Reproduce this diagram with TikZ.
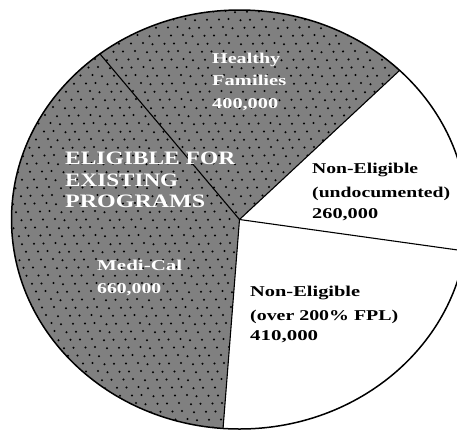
\documentclass[tikz,border=0pt]{standalone}
\usepackage{fontspec}
\setmainfont{Liberation Serif}
\usepackage{graphicx}
\usetikzlibrary{calc}
\newcommand{\stretchlab}[2]{\resizebox{#1pt}{\height}{#2}}
\begin{document}
\begin{tikzpicture}[x=1pt,y=-1pt,
  lblw/.style={anchor=base west, inner sep=0pt, text=white, font=\bfseries\fontsize{15}{15}\selectfont},
  lblb/.style={anchor=base west, inner sep=0pt, text=black, font=\bfseries\fontsize{15}{15}\selectfont},
  lblbig/.style={anchor=base west, inner sep=0pt, text=white, font=\bfseries\fontsize{19}{19}\selectfont},
  divider/.style={draw=black, line width=1.1pt},
  rim/.style={draw=black, line width=1.5pt},
  dotc/.style={fill=black}]
\useasboundingbox (0,0) rectangle (457,432);
\fill[white] (0,0) rectangle (457,432);
\clip (0,0) rectangle (457,432);
\coordinate (C) at (239.5,219.5);
\coordinate (UL) at (100,54);
\coordinate (UR) at (399.5,70.5);
\coordinate (R) at (465,251);
\coordinate (B) at (223,429);
% shaded sector (eligible)
\begin{scope}
  \clip (C) ellipse [x radius=228pt, y radius=209.5pt];
  \clip (C) -- ($(C)!3!(B)$) -- (-400,900) -- (-400,-400) -- (760,-400) -- ($(C)!3!(UR)$) -- cycle;
  \fill[gray] (-10,-10) rectangle (470,440);
  \foreach \r in {0,...,55} {
    \foreach \c in {0,...,41} {
      \fill[dotc] ({\c*11 + mod(\r*4,11) + mod(\c*7+\r*3,5)*0.5}, {\r*8 + 3 + mod(\c*3,4)*0.4}) circle[radius=1.15pt];
    }
  }
\end{scope}
% dividers
\draw[divider] (C) -- (UL);
\draw[divider] (C) -- (UR);
\draw[divider] (C) -- (R);
\draw[divider] (C) -- (B);
% outline
\draw[rim] (C) ellipse [x radius=228pt, y radius=209.5pt];
% labels
\node[lblw] (hf1) at (212,63) {\stretchlab{68}{Healthy}};
\node[lblw] (hf2) at (212,85) {\stretchlab{74}{Families}};
\node[lblw] (hf3) at (212,108) {\stretchlab{66}{400,000}};
\node[lblbig] (el1) at (65,164) {\stretchlab{170}{ELIGIBLE FOR}};
\node[lblbig] (el2) at (65,186) {\stretchlab{113}{EXISTING}};
\node[lblbig] (el3) at (65,207) {\stretchlab{140}{PROGRAMS}};
\node[lblb] (nu1) at (312,173) {\stretchlab{106}{Non-Eligible}};
\node[lblb] (nu2) at (312,197) {\stretchlab{138}{(undocumented)}};
\node[lblb] (nu3) at (312,218) {\stretchlab{66}{260,000}};
\node[lblw] (mc1) at (97,270) {\stretchlab{85}{Medi-Cal}};
\node[lblw] (mc2) at (97,293) {\stretchlab{64}{660,000}};
\node[lblb] (no1) at (250,296) {\stretchlab{110}{Non-Eligible}};
\node[lblb] (no2) at (250,320) {\stretchlab{148}{(over 200\% FPL)}};
\node[lblb] (no3) at (250,340) {\stretchlab{68}{410,000}};
\end{tikzpicture}
\end{document}
